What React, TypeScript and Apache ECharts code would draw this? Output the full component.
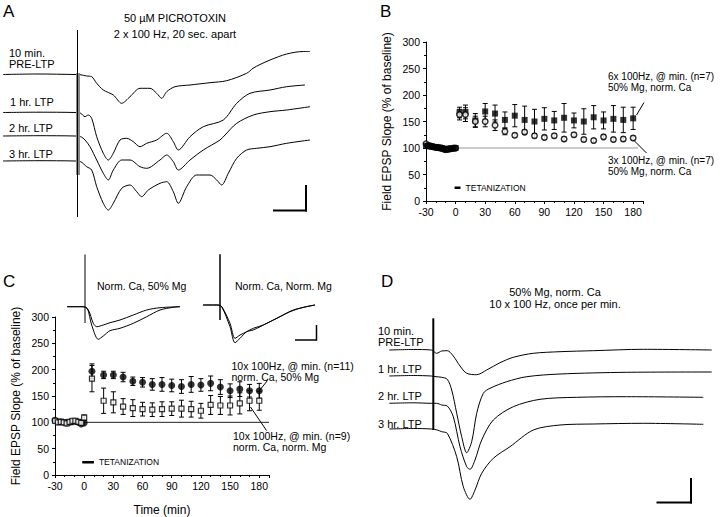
import React, { useEffect, useRef } from 'react';
import * as echarts from 'echarts';

const FONT = '"Liberation Sans", Arial, Helvetica, sans-serif';

// ---------- Panel B : 50% Mg, norm. Ca ----------
const bBaseTimes = [-30, -28, -26, -24, -22, -20, -18, -16, -14, -12, -10, -8, -6, -4, -2, 0];
const bBase6x = [104, 104, 103, 103, 102, 102, 101, 101, 100, 99, 97, 97, 98, 99, 99, 100];
const bBase3x = [108, 105, 104, 103, 102, 101, 101, 100, 99, 98, 97, 98, 99, 99, 100, 100];
const bTimes = [4, 10, 20, 30, 40, 50, 60, 70, 80, 90, 100, 110, 120, 130, 140, 150, 160, 170, 180];
const b6xMean = [167, 168, 152, 169, 165, 153, 161, 153, 150, 155, 152, 157, 152, 150, 158, 152, 155, 153, 156];
const b6xErr = [10, 13, 13, 15, 16, 15, 21, 26, 23, 21, 17, 27, 14, 24, 22, 16, 25, 24, 21];
const b3xMean = [163, 163, 150, 150, 143, 131, 124, 130, 123, 120, 123, 117, 125, 116, 114, 121, 116, 117, 119];
const b3xErr = [10, 13, 10, 10, 10, 6, 4, 4, 4, 4, 4, 4, 4, 4, 4, 4, 4, 4, 4];

// ---------- Panel C ----------
const cBaseTimes = [-30, -27, -24, -21, -18, -15, -12, -9, -6, -3, 0];
const cBaseMg = [104, 101, 101, 100, 99, 100, 101, 102, 100, 97, 99];
const cBaseNorm = [103, 100, 101, 100, 98, 101, 103, 103, 101, 99, 109];
const cBaseErr = [4, 3, 3, 3, 3, 3, 3, 4, 3, 5, 5];
const cTimes = [8, 20, 30, 40, 50, 60, 70, 80, 90, 100, 110, 120, 130, 140, 150, 160, 170, 180];
const cMgMean = [197, 190, 190, 186, 178, 176, 172, 172, 170, 168, 172, 171, 174, 167, 160, 163, 160, 160];
const cMgErr = [14, 7, 7, 9, 8, 9, 11, 13, 12, 13, 15, 12, 14, 14, 13, 14, 12, 14];
const cNormMean = [183, 141, 138, 130, 127, 125, 124, 125, 126, 126, 125, 122, 133, 132, 132, 136, 141, 141];
const cNormErr = [25, 24, 20, 15, 16, 13, 13, 14, 13, 16, 15, 14, 18, 17, 18, 20, 19, 18];

const xTicks = [-30, 0, 30, 60, 90, 120, 150, 180];

// ---------- Traces: [time after stimulus, deflection from baseline] ----------
// Panel A (picrotoxin)
const aPre = [[-75, 0], [-40, 0.5], [-3, 0], [2, -0.2], [8.7, -1.5], [13.7, -2.2], [18.7, -8.8], [25.3, -15.5], [35.3, -20.5], [43.7, -28.8], [52, -22.2], [62, -13.8], [72, -13.8], [78.7, -18.8], [83.7, -23.8], [88.7, -17.2], [97, -12.2], [112, -10.5], [132, -8.2], [148.7, -6.2], [168.7, 1.2], [175, 6.2], [182, 10], [192, 14.5], [208.7, 20.5], [225.3, 23], [232, 23]];
const a1hr = [[-75, 0], [-40, 0.3], [-3, 0], [2.7, -0.8], [7, -4.2], [10.3, -2.5], [13.7, -5.8], [18.7, -24.2], [25.3, -40.8], [30.3, -47.5], [35.3, -40.8], [42, -27.5], [48.7, -25.8], [55.3, -29.2], [62, -34.2], [68.7, -30.8], [78.7, -27.5], [88.7, -20.8], [95.3, -29.2], [100.3, -37.5], [112, -24.2], [125.3, -14.2], [145.3, -7.5], [158.7, 9.2], [172, 19.2], [192, 22.5], [208.7, 25.8], [227, 27.5]];
const a2hr = [[-75, 0], [-40, 0.3], [-3, 0], [2.7, -0.7], [7, -4], [12, -10.7], [18.7, -24], [25.3, -37.3], [30.3, -44], [35.3, -34], [43.7, -24], [52, -24], [62, -30.7], [68.7, -32.3], [82, -24], [88.7, -19], [95.3, -25.7], [100.3, -34], [112, -24], [125.3, -14], [142, -4], [147, 1], [158.7, 12.7], [175.3, 21], [192, 24.3], [208.7, 26], [232, 29.3]];
const a3hr = [[-75, 0], [-40, 0.3], [-3, 0], [2.7, -0.7], [8.7, -5.7], [13.7, -9], [18.7, -25.7], [25.3, -42.3], [30.3, -49], [35.3, -42.3], [43.7, -27.3], [52, -24], [58.7, -30.7], [63.7, -35.7], [70.3, -29], [82, -22.3], [88.7, -20.7], [95.3, -30.7], [100.3, -42.3], [108.7, -25.7], [118.7, -14], [132, -14], [138.7, -19], [143.7, -24], [150.3, -12.3], [158.7, 2.7], [168.7, 11], [178.7, 12.7], [192, 14.3], [208.7, 17.7], [232, 21]];

// Panel D (50% Mg)
const dPre = [[-44, 0], [-20, 0.5], [-2, 0], [3.4, -3.3], [8.4, -1], [14, -0.7], [20, -6], [26.7, -16], [33.4, -23.3], [43.4, -24.7], [53.4, -20], [66.7, -12.7], [80, -7.3], [100, -3.3], [126.7, -1.7], [160, -0.7], [210, 0.7], [278.4, 0]];
const d1hr = [[-44, 0], [-20, 0.5], [-2, 0], [2.7, -0.7], [8.4, -1.3], [14, -3.3], [18.4, -14], [23.4, -37.3], [28.4, -60.7], [33.4, -76.7], [38.4, -65.7], [43.4, -37.3], [50, -17.3], [56.7, -12.3], [73.4, -5.7], [93.4, -0.7], [126.7, 2], [193.4, 3.7], [278.4, 4]];
const d2hr = [[-44, 0], [-20, 0.5], [-2, 0], [3.4, 0], [8.4, -1.7], [14, -2.7], [20, -13.4], [26.7, -43.4], [33.4, -63.4], [36.7, -66], [41.7, -56.7], [48.4, -36.7], [60, -16.7], [80, -3.4], [106.7, 4], [143.4, 6], [193.4, 6.6], [270, 6]];
const d3hr = [[-44, 0], [-20, 0.5], [-2, 0], [4, -1], [8.4, -2.7], [14, -4.3], [23.4, -27.7], [30, -57.7], [36.7, -70.3], [41.7, -61], [48.4, -44.3], [60, -29.3], [76.7, -17.7], [100, -1], [126.7, 4], [160, 5], [210, 5.7], [270, 4.7]];

// Panel C insets
const cL_a = [[-18, 0], [-2, 0], [2.3, -1.6], [6.7, -18.3], [13.3, -32.6], [18.3, -29.3], [25, -24], [35, -21.6], [48.3, -16.6], [61.7, -10], [75, -3.3], [88.3, -0.6], [95, 0]];
const cL_b = [[-18, 0], [-2, 0], [3.3, -3.3], [8.3, -16.6], [11.7, -20], [18.3, -18.3], [25, -16], [35, -13.3], [48.3, -8.3], [61.7, -3.3], [75, -1], [95, 0]];
const cR_a = [[-17, 0], [-2, 0], [1.7, -1.7], [10, -21.7], [15, -37.7], [20, -33.3], [26.7, -26.7], [33.3, -25], [46.7, -18.3], [60, -11.7], [73.3, -5], [86.7, -1.7], [95, 0]];
const cR_b = [[-17, 0], [-2, 0], [2, -2], [10, -18.3], [15, -33.3], [20, -30], [26.7, -26.7], [33.3, -23.3], [43.3, -20], [56.7, -13.3], [70, -6.7], [83.3, -2.3], [95, 0]];

const pts = (t: number[], v: number[]) => t.map((x, i) => [x, v[i]]);
const errPts = (t: number[], v: number[], e: number[]) => t.map((x, i) => [x, v[i] - e[i], v[i] + e[i]]);

const errRender = (cap: number) => (params: any, api: any) => {
  const x = api.value(0);
  const p1 = api.coord([x, api.value(1)]);
  const p2 = api.coord([x, api.value(2)]);
  const st = { stroke: '#000', lineWidth: 1 };
  return {
    type: 'group',
    children: [
      { type: 'line', shape: { x1: p1[0], y1: p1[1], x2: p2[0], y2: p2[1] }, style: st },
      { type: 'line', shape: { x1: p1[0] - cap, y1: p1[1], x2: p1[0] + cap, y2: p1[1] }, style: st },
      { type: 'line', shape: { x1: p2[0] - cap, y1: p2[1], x2: p2[0] + cap, y2: p2[1] }, style: st },
    ],
  };
};

const errSeries = (xi: number, data: any[], cap: number, z: number) => ({
  type: 'custom', xAxisIndex: xi, yAxisIndex: xi, data, renderItem: errRender(cap),
  encode: { x: 0, y: [1, 2] }, silent: true, z,
});

const traceSeries = (gi: number, data: number[][], offset: number, width = 1) => ({
  type: 'line', xAxisIndex: gi, yAxisIndex: gi, data: data.map(([t, v]) => [t, v + offset]),
  showSymbol: false, symbol: 'none', smooth: 0.3, silent: true,
  lineStyle: { color: '#000', width }, z: 3,
});

const segSeries = (gi: number, data: number[][], color: string, width: number, extra: any = {}) => ({
  type: 'line', xAxisIndex: gi, yAxisIndex: gi, data, showSymbol: false, symbol: 'none',
  silent: true, lineStyle: { color, width }, z: 4, ...extra,
});

const hiddenX = (gi: number, min: number, max: number) => ({ type: 'value', gridIndex: gi, min, max, show: false });
const hiddenY = (gi: number, min: number, max: number) => ({ type: 'value', gridIndex: gi, min, max, show: false });

const dataX = (gi: number, name?: string) => ({
  type: 'value', gridIndex: gi, min: -30, max: 190, interval: 30,
  name, nameLocation: 'middle', nameGap: 29,
  nameTextStyle: { color: '#000', fontSize: 12, fontFamily: FONT },
  axisLine: { show: true, onZero: false, lineStyle: { color: '#000', width: 1 } },
  axisTick: { show: true, length: 3, lineStyle: { color: '#000' } },
  minorTick: { show: true, splitNumber: 3, length: 2, lineStyle: { color: '#000' } },
  axisLabel: { color: '#000', fontSize: 10.5, fontFamily: FONT, margin: 5,
    formatter: (v: number) => (xTicks.includes(v) ? String(v) : '') },
  splitLine: { show: false }, minorSplitLine: { show: false },
});
const dataY = (gi: number) => ({
  type: 'value', gridIndex: gi, min: 0, max: 300, interval: 50,
  name: 'Field EPSP Slope (% of baseline)', nameLocation: 'middle', nameGap: 33,
  nameTextStyle: { color: '#000', fontSize: 12, fontFamily: FONT },
  axisLine: { show: true, onZero: false, lineStyle: { color: '#000', width: 1 } },
  axisTick: { show: true, length: 3, lineStyle: { color: '#000' } },
  minorTick: { show: true, splitNumber: 2, length: 2, lineStyle: { color: '#000' } },
  axisLabel: { color: '#000', fontSize: 10.5, fontFamily: FONT, margin: 6 },
  splitLine: { show: false }, minorSplitLine: { show: false },
});

const txt = (x: number, y: number, text: string, size = 11, align = 'left', lh?: number) => ({
  type: 'text', x, y, silent: true,
  style: { text, fill: '#000', fontSize: size, fontFamily: FONT, textAlign: align, textVerticalAlign: 'middle', lineHeight: lh ?? size + 1 },
});
const ln = (x1: number, y1: number, x2: number, y2: number, w = 1) => ({
  type: 'line', silent: true, shape: { x1, y1, x2, y2 }, style: { stroke: '#000', lineWidth: w },
});

const App: React.FC = () => {
  const ref = useRef<HTMLDivElement>(null);
  useEffect(() => {
    document.body.style.margin = '0';
    const chart = echarts.init(ref.current!, undefined, { renderer: 'svg' });
    const gridBase = { containLabel: false, outerBoundsMode: 'none' } as any;
    const option: any = {
      animation: false,
      backgroundColor: '#fff',
      grid: [
        { ...gridBase, left: 0, top: 0, width: 360, height: 260 },   // 0 A
        { ...gridBase, left: 426, top: 42, width: 217, height: 159 }, // 1 B
        { ...gridBase, left: 60, top: 255, width: 130, height: 90 },  // 2 C inset L
        { ...gridBase, left: 195, top: 255, width: 130, height: 90 }, // 3 C inset R
        { ...gridBase, left: 55, top: 317, width: 214, height: 158 }, // 4 C
        { ...gridBase, left: 360, top: 260, width: 360, height: 257 }, // 5 D
      ],
      xAxis: [
        hiddenX(0, -78, 282),
        dataX(1),
        hiddenX(2, -25, 105),
        hiddenX(3, -25, 105),
        dataX(4, 'Time (min)'),
        hiddenX(5, -73.3, 286.7),
      ],
      yAxis: [
        hiddenY(0, 0, 260),
        dataY(1),
        hiddenY(2, 0, 90),
        hiddenY(3, 0, 90),
        dataY(4),
        hiddenY(5, 0, 257),
      ],
      series: [
        // ----- A -----
        segSeries(0, [[0, 187], [0, 85]], '#888', 4),
        segSeries(0, [[-0.5, 230], [-0.5, 43]], '#000', 1),
        traceSeries(0, aPre, 185.5),
        traceSeries(0, a1hr, 147.5),
        traceSeries(0, a2hr, 124),
        traceSeries(0, a3hr, 99),
        // ----- B -----
        segSeries(1, [[0, 100], [185, 100]], '#999', 1, { z: 1 }),
        segSeries(1, [[-1, 25], [5, 25]], '#000', 2.5, {
          endLabel: { show: true, formatter: 'TETANIZATION', color: '#000', fontSize: 8.5, fontFamily: FONT, distance: 5 },
        }),
        errSeries(1, errPts(bTimes, b3xMean, b3xErr), 2.5, 2),
        errSeries(1, errPts(bTimes, b6xMean, b6xErr), 2.5, 2),
        { type: 'scatter', xAxisIndex: 1, yAxisIndex: 1, silent: true, z: 4, symbol: 'circle', symbolSize: 5.5,
          itemStyle: { color: '#fff', borderColor: '#000', borderWidth: 1.5 }, data: pts(bBaseTimes, bBase3x) },
        { type: 'scatter', xAxisIndex: 1, yAxisIndex: 1, silent: true, z: 5, symbol: 'rect', symbolSize: 6,
          itemStyle: { color: '#000' }, data: pts(bBaseTimes, bBase6x).concat(pts(bTimes, b6xMean)) },
        { type: 'scatter', xAxisIndex: 1, yAxisIndex: 1, silent: true, z: 6, symbol: 'circle', symbolSize: 5.5,
          itemStyle: { color: '#fff', borderColor: '#000', borderWidth: 1.5 }, data: pts(bTimes, b3xMean) },
        // ----- C insets -----
        segSeries(2, [[0, 92], [0, 22]], '#000', 1),
        traceSeries(2, cL_a, 38.3),
        traceSeries(2, cL_b, 38.3),
        segSeries(3, [[0, 92], [0, 25]], '#000', 1.5),
        traceSeries(3, cR_a, 40),
        traceSeries(3, cR_b, 40),
        // ----- C -----
        segSeries(4, [[-2, 100], [190, 100]], '#222', 1, { z: 1 }),
        segSeries(4, [[-2, 24], [10, 24]], '#000', 2.5, {
          endLabel: { show: true, formatter: 'TETANIZATION', color: '#000', fontSize: 8.5, fontFamily: FONT, distance: 5 },
        }),
        errSeries(4, errPts(cBaseTimes, cBaseNorm, cBaseErr), 2.5, 2),
        errSeries(4, errPts(cTimes, cNormMean, cNormErr), 2.5, 2),
        errSeries(4, errPts(cTimes, cMgMean, cMgErr), 2.5, 2),
        { type: 'scatter', xAxisIndex: 4, yAxisIndex: 4, silent: true, z: 5, symbol: 'circle', symbolSize: 7,
          itemStyle: { color: '#000' }, data: pts(cBaseTimes, cBaseMg).concat(pts(cTimes, cMgMean)) },
        { type: 'scatter', xAxisIndex: 4, yAxisIndex: 4, silent: true, z: 6, symbol: 'rect', symbolSize: 5,
          itemStyle: { color: '#fff', borderColor: '#000', borderWidth: 1.2 }, data: pts(cBaseTimes, cBaseNorm).concat(pts(cTimes, cNormMean)) },
        // ----- D -----
        segSeries(5, [[0, 198.7], [0, 87]], '#000', 2),
        traceSeries(5, dPre, 167),
        traceSeries(5, d1hr, 141),
        traceSeries(5, d2hr, 113.7),
        traceSeries(5, d3hr, 88),
      ],
      graphic: [
        txt(3, 11, 'A', 17), txt(380, 11, 'B', 17), txt(3, 281, 'C', 17), txt(381, 281, 'D', 17),
        txt(175, 26, '50 µM PICROTOXIN\n2 x 100 Hz, 20 sec. apart', 11, 'center', 16),
        txt(9, 58.3, '10 min.\nPRE-LTP', 11, 'left', 10.5),
        txt(10, 101.5, '1 hr. LTP'), txt(9, 127.5, '2 hr. LTP'), txt(9, 154, '3 hr. LTP'),
        txt(555, 298, '50% Mg, norm. Ca\n10 x 100 Hz, once per min.', 11, 'center', 12.5),
        txt(378, 336.7, '10 min.\nPRE-LTP', 11, 'left', 10.5),
        txt(378, 368.5, '1 hr. LTP'), txt(378, 396, '2 hr. LTP'), txt(378, 423.5, '3 hr. LTP'),
        txt(97, 286, 'Norm. Ca, 50% Mg', 10.5), txt(235, 286, 'Norm. Ca, Norm. Mg', 10.5),
        txt(608, 82.2, '6x 100Hz, @ min. (n=7)\n50% Mg, norm. Ca', 10, 'left', 10.5),
        txt(608, 165.8, '3x 100Hz, @ min. (n=7)\n50% Mg, norm. Ca', 10, 'left', 11.5),
        txt(231.5, 371.3, '10x 100Hz, @ min. (n=11)\nnorm. Ca, 50% Mg', 10.5, 'left', 10.7),
        txt(233, 441.3, '10x 100Hz, @ min. (n=9)\nnorm. Ca, norm. Mg', 10.5, 'left', 10.7),
        // leader lines
        ln(636.5, 115, 644, 102.5), ln(633.5, 140, 646.5, 153),
        ln(259, 391, 267.5, 380.5), ln(250.5, 407, 266.5, 430.5),
        // scale bars
        ln(273, 210.5, 307, 210.5, 2), ln(306, 185, 306, 211.5, 2),
        ln(295, 340, 317, 340, 1.5), ln(316.5, 325, 316.5, 340.5, 1.5),
        ln(656.5, 502.5, 692, 502.5, 2), ln(691, 478, 691, 503.5, 2),
      ],
    };
    chart.setOption(option);
    return () => chart.dispose();
  }, []);
  return <div ref={ref} style={{ position: 'absolute', left: 0, top: 0, width: 720, height: 517 }} />;
};

export default App;
